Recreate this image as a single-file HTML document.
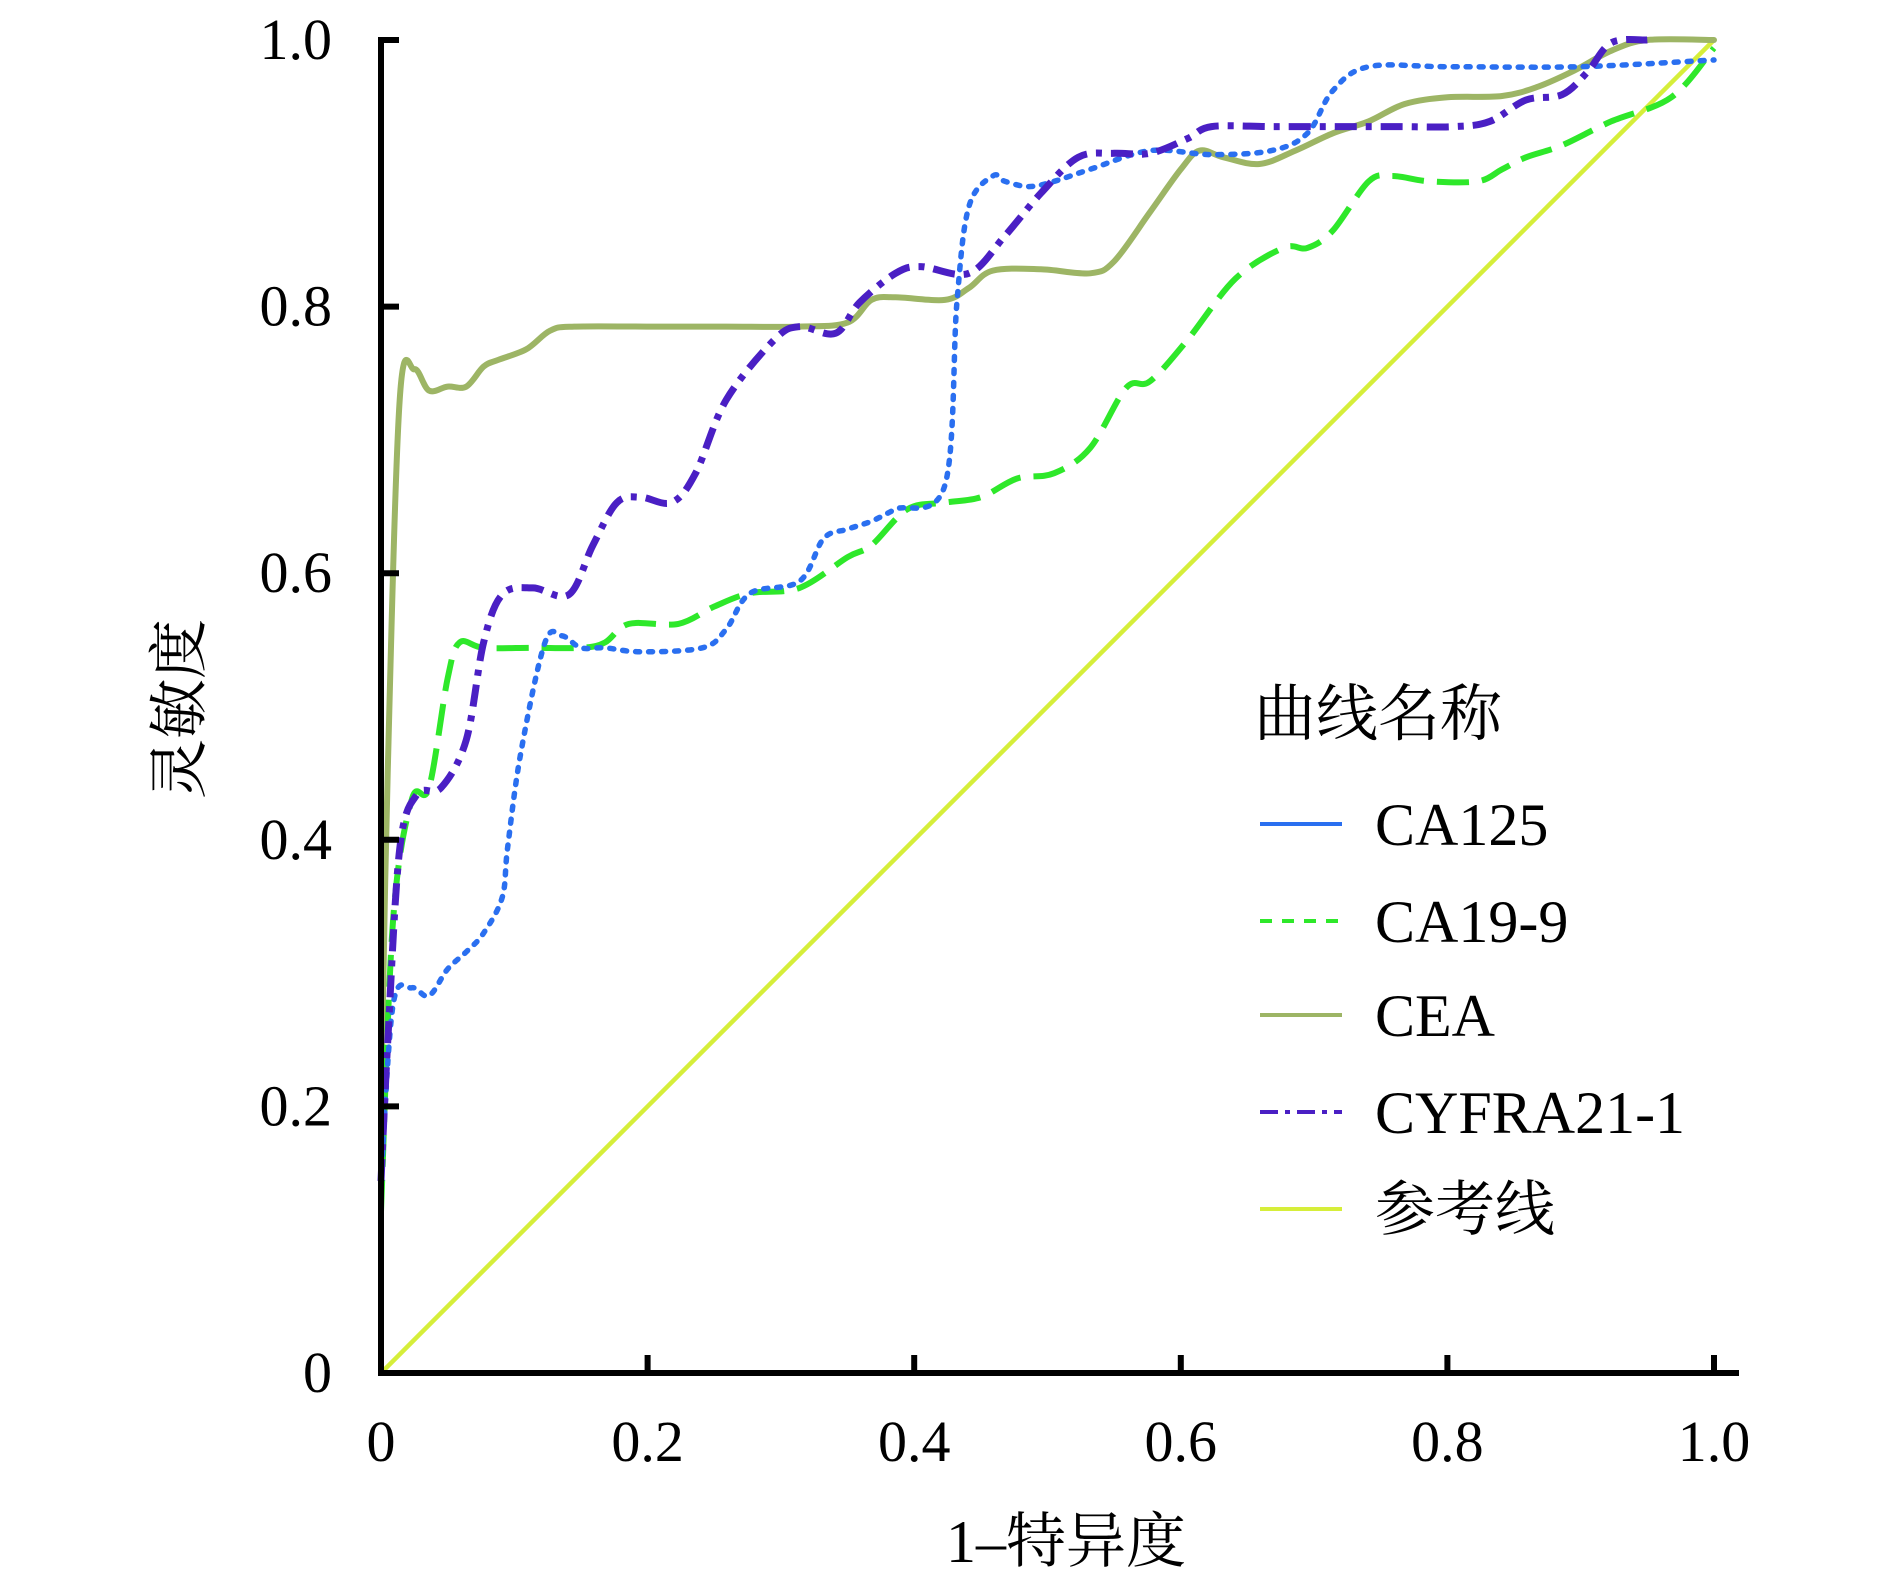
<!DOCTYPE html>
<html><head><meta charset="utf-8"><style>
html,body{margin:0;padding:0;background:#fff;}
svg{display:block;}
text{font-family:"Liberation Serif","Noto Serif CJK SC",serif;fill:#000;}
</style></head><body>
<svg id="chart" width="1890" height="1583" viewBox="0 0 1890 1583" xmlns="http://www.w3.org/2000/svg"></svg>
<script>
const xTicks=[0,0.2,0.4,0.6,0.8,1.0];
const xTickLabels=["0","0.2","0.4","0.6","0.8","1.0"];
const yTicks=[0,0.2,0.4,0.6,0.8,1.0];
const yTickLabels=["0","0.2","0.4","0.6","0.8","1.0"];
const ca125X=[0,0.009,0.023,0.036,0.05,0.064,0.077,0.091,0.095,0.105,0.123,0.136,0.15,0.168,0.195,0.241,0.259,0.277,0.314,0.332,0.35,0.368,0.386,0.423,0.432,0.441,0.459,0.468,0.486,0.505,0.532,0.577,0.623,0.668,0.695,0.714,0.741,0.8,0.9,1];
const ca125Y=[0.144,0.276,0.289,0.283,0.303,0.316,0.33,0.357,0.394,0.466,0.548,0.553,0.544,0.544,0.541,0.544,0.558,0.585,0.594,0.626,0.633,0.639,0.648,0.666,0.803,0.875,0.898,0.894,0.89,0.894,0.903,0.917,0.914,0.917,0.93,0.962,0.98,0.98,0.98,0.985];
const ca199X=[0,0.009,0.023,0.036,0.05,0.059,0.077,0.114,0.15,0.168,0.186,0.223,0.25,0.277,0.314,0.35,0.368,0.395,0.423,0.45,0.477,0.505,0.532,0.559,0.577,0.605,0.641,0.677,0.695,0.714,0.741,0.759,0.786,0.823,0.841,0.859,0.886,0.923,0.968,1];
const ca199Y=[0.121,0.339,0.43,0.439,0.521,0.548,0.544,0.544,0.544,0.548,0.562,0.562,0.575,0.585,0.589,0.612,0.621,0.648,0.653,0.657,0.671,0.675,0.694,0.739,0.744,0.775,0.821,0.844,0.844,0.857,0.894,0.898,0.894,0.894,0.903,0.912,0.921,0.939,0.957,0.994];
const ceaX=[0,0.005,0.014,0.025,0.036,0.05,0.064,0.077,0.088,0.109,0.127,0.145,0.205,0.259,0.314,0.35,0.368,0.386,0.423,0.441,0.459,0.495,0.532,0.55,0.577,0.6,0.614,0.632,0.659,0.686,0.714,0.741,0.768,0.8,0.841,0.868,0.895,0.923,0.95,1];
const ceaY=[0.2,0.45,0.73,0.753,0.737,0.74,0.74,0.755,0.76,0.768,0.782,0.785,0.785,0.785,0.785,0.788,0.805,0.807,0.805,0.814,0.827,0.828,0.825,0.834,0.871,0.903,0.917,0.912,0.907,0.917,0.93,0.939,0.952,0.957,0.958,0.965,0.977,0.992,1.0,1.0];
const cyfraX=[0,0.005,0.014,0.027,0.045,0.064,0.077,0.091,0.114,0.141,0.159,0.177,0.195,0.218,0.236,0.259,0.295,0.314,0.341,0.359,0.386,0.405,0.441,0.468,0.495,0.523,0.55,0.577,0.605,0.623,0.668,0.714,0.759,0.805,0.832,0.859,0.886,0.905,0.923,0.95];
const cyfraY=[0.144,0.248,0.393,0.434,0.439,0.475,0.548,0.584,0.589,0.584,0.621,0.653,0.657,0.653,0.675,0.73,0.775,0.785,0.78,0.803,0.825,0.83,0.825,0.853,0.885,0.912,0.915,0.915,0.926,0.935,0.935,0.935,0.935,0.935,0.939,0.955,0.959,0.976,0.998,1.0];
const refX=[0,1];
const refY=[0,1];

const X0=381,X1=1714,Y0=1373,Y1=40;
const sx=v=>X0+v*(X1-X0);
const sy=v=>Y0-v*(Y0-Y1);
const NS="http://www.w3.org/2000/svg";
const svg=document.getElementById('chart');
function mk(tag,attrs,parent){const e=document.createElementNS(NS,tag);for(const k in attrs)e.setAttribute(k,attrs[k]);(parent||svg).appendChild(e);return e;}

function smoothPath(xs,ys){
  const p=xs.map((x,i)=>[sx(x),sy(ys[i])]);
  let d="M"+p[0][0].toFixed(1)+","+p[0][1].toFixed(1);
  for(let i=0;i<p.length-1;i++){
    const a=p[Math.max(0,i-1)],b=p[i],c=p[i+1],e=p[Math.min(p.length-1,i+2)];
    const c1=[b[0]+(c[0]-a[0])/6,b[1]+(c[1]-a[1])/6];
    const c2=[c[0]-(e[0]-b[0])/6,c[1]-(e[1]-b[1])/6];
    d+=" C"+c1[0].toFixed(1)+","+c1[1].toFixed(1)+" "+c2[0].toFixed(1)+","+c2[1].toFixed(1)+" "+c[0].toFixed(1)+","+c[1].toFixed(1);
  }
  return d;
}

const ref=mk('line',{x1:sx(refX[0]),y1:sy(refY[0]),x2:sx(refX[1]),y2:sy(refY[1]),stroke:'#d6ee3a','stroke-width':4.5});



const series=[
 {n:'cea-curve',xs:ceaX,ys:ceaY,c:'#9db565',w:6,da:'',cap:'round'},
 {n:'ca19-9-curve',xs:ca199X,ys:ca199Y,c:'#2ee82a',w:6,da:'32 13',cap:'butt'},
 {n:'ca125-curve',xs:ca125X,ys:ca125Y,c:'#2a6ff0',w:5.5,da:'4 9',cap:'round'},
 {n:'cyfra21-1-curve',xs:cyfraX,ys:cyfraY,c:'#4a1fc4',w:7,da:'22 9 6 9',cap:'butt'}
];
series.forEach(s=>{
  const p=mk('path',{d:smoothPath(s.xs,s.ys),fill:'none',stroke:s.c,'stroke-width':s.w,'stroke-linejoin':'round','stroke-linecap':s.cap});
  if(s.da)p.setAttribute('stroke-dasharray',s.da);
  
  
});

const ya=mk('line',{x1:X0,y1:Y1-3,x2:X0,y2:Y0+3,stroke:'#000','stroke-width':6});


const xa=mk('line',{x1:X0-3,y1:Y0,x2:1739,y2:Y0,stroke:'#000','stroke-width':6});



yTicks.forEach((v,i)=>{
  const t=mk('line',{x1:X0,y1:sy(v),x2:X0+18,y2:sy(v),stroke:'#000','stroke-width':6});
  
  
  const l=mk('text',{x:332,y:sy(v)+19,'text-anchor':'end','font-size':58});
  l.textContent=yTickLabels[i];
  
  
});
xTicks.forEach((v,i)=>{
  const t=mk('line',{x1:sx(v),y1:Y0,x2:sx(v),y2:Y0-18,stroke:'#000','stroke-width':6});
  
  
  const l=mk('text',{x:sx(v),y:1461,'text-anchor':'middle','font-size':58});
  l.textContent=xTickLabels[i];
  
  
});

const xt=mk('text',{x:1066,y:1562,'text-anchor':'middle','font-size':60});
xt.textContent='1–特异度';


const yt=mk('text',{x:0,y:0,'text-anchor':'middle','font-size':60,transform:'translate(200,709) rotate(-90)'});
yt.textContent='灵敏度';



const lt=mk('text',{x:1254,y:735,'font-size':62});
lt.textContent='曲线名称';


const legNames=['CA125','CA19-9','CEA','CYFRA21-1','参考线'];
const legStyles=[['#2a6ff0',''],['#2ee82a','12 10'],['#9db565',''],['#4a1fc4','18 7 5 7'],['#d6ee3a','']];
const legY=[824,921,1015,1112,1209];
legNames.forEach((n,i)=>{
  const ln=mk('line',{x1:1260,y1:legY[i],x2:1342,y2:legY[i],stroke:legStyles[i][0],'stroke-width':4});
  if(legStyles[i][1])ln.setAttribute('stroke-dasharray',legStyles[i][1]);
  
  
  const tx=mk('text',{x:1375,y:legY[i]+21,'font-size':60});
  tx.textContent=n;
  
  
});
</script>
</body></html>
